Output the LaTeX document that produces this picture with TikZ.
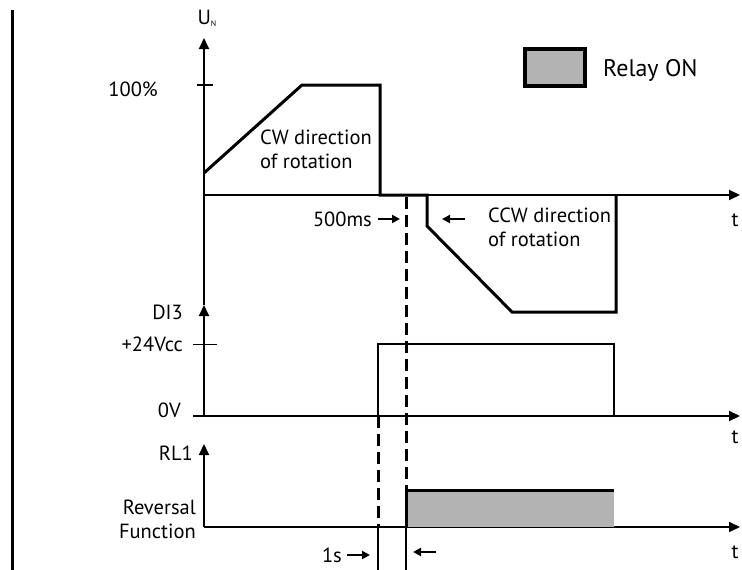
\documentclass[tikz,border=0pt]{standalone}
\usepackage{fontspec}
\setmainfont{PT Sans}
\usetikzlibrary{arrows.meta,positioning}
\definecolor{relaygray}{HTML}{B3B3B3}

\begin{document}
\begin{tikzpicture}[x=1pt,y=-1pt,
    axis/.style={line width=2pt, -{Triangle[length=11pt,width=10pt]}},
    sig/.style={line width=3pt},
    marker/.style={line width=3pt, dash pattern=on 12pt off 6pt},
    hint/.style={line width=2.6pt, -{Triangle[length=8pt,width=8pt]}},
    lbl/.style={font=\fontsize{20.5}{24}\selectfont, inner sep=0pt},
    every node/.style={lbl}
  ]
    \useasboundingbox (0,0) rectangle (742,570);
    \draw[line width=3pt] (12,10) -- (12,570);

    % motor voltage
    \draw[axis] (204,416) -- (204,305);
    \draw[axis] (204,305) -- (204,38);
    \draw[axis] (204,195) -- (740,195);
    \draw[line width=2.4pt] (197,85) -- (213,85);
    \node[anchor=south] (un) at (207,27) {U\raisebox{-2pt}{\fontsize{8}{8}\selectfont N}};
    \node[anchor=east] (full) at (158,89) {100\%};
    \draw[sig] (204,173) -- (302,85) -- (380,85) -- (380,195) -- (427,195)
      -- (427,226) -- (512,312) -- (616,312) -- (616,195);
    \node[anchor=north west, align=left] (cw) at (260,130) {CW direction\\of rotation};
    \node[anchor=north west, align=left] (ccw) at (488,208) {CCW direction\\of rotation};
    \node[anchor=east] (ms) at (372,219) {500ms};
    \draw[hint] ([xshift=6pt]ms.east) -- ++(22,0);
    \draw[hint] ([xshift=-23pt]ccw.north west |- ms) -- ++(-23,0);
    \node (t1) at (735,220) {t};

    % input DI3
    \draw[axis] (193,416) -- (740,416);
    \draw[line width=1pt] (193,344) -- (217,344);
    \node[anchor=east] (di) at (183,312) {DI3};
    \node[anchor=east] (hi) at (183,344) {+24Vcc};
    \node[anchor=east] (lo) at (181,410) {0V};
    \draw[line width=2.2pt] (378,416) -- (378,344) -- (614,344) -- (614,416);
    \node (t2) at (735,437) {t};

    % relay RL1
    \draw[axis] (204,527) -- (204,444);
    \draw[axis] (204,527) -- (740,527);
    \node[anchor=east] (rl) at (193,453) {RL1};
    \node[anchor=east, align=right] (rev) at (196,519) {Reversal\\Function};
    \fill[relaygray] (406,490) rectangle (614,527);
    \draw[sig] (406,527) -- (406,490) -- (614,490);
    \node (t3) at (735,552) {t};

    % timing marks
    \draw[marker] (406,197) -- (406,490);
    \draw[line width=1.6pt] (406,490) -- (406,570);
    \draw[marker] (378,416) -- (378,527);
    \draw[line width=1.6pt] (378,527) -- (378,570);
    \node[anchor=east] (sec) at (342,555) {1s};
    \draw[hint] ([xshift=5pt]sec.east) -- ++(23,0);
    \draw[hint] (436,552) -- (413,552);

    % legend
    \draw[line width=4.5pt, fill=relaygray] (525,49) rectangle (585,86);
    \node[anchor=west, font=\fontsize{24}{28}\selectfont] (relay) at (603,70) {Relay ON};
\end{tikzpicture}
\end{document}
